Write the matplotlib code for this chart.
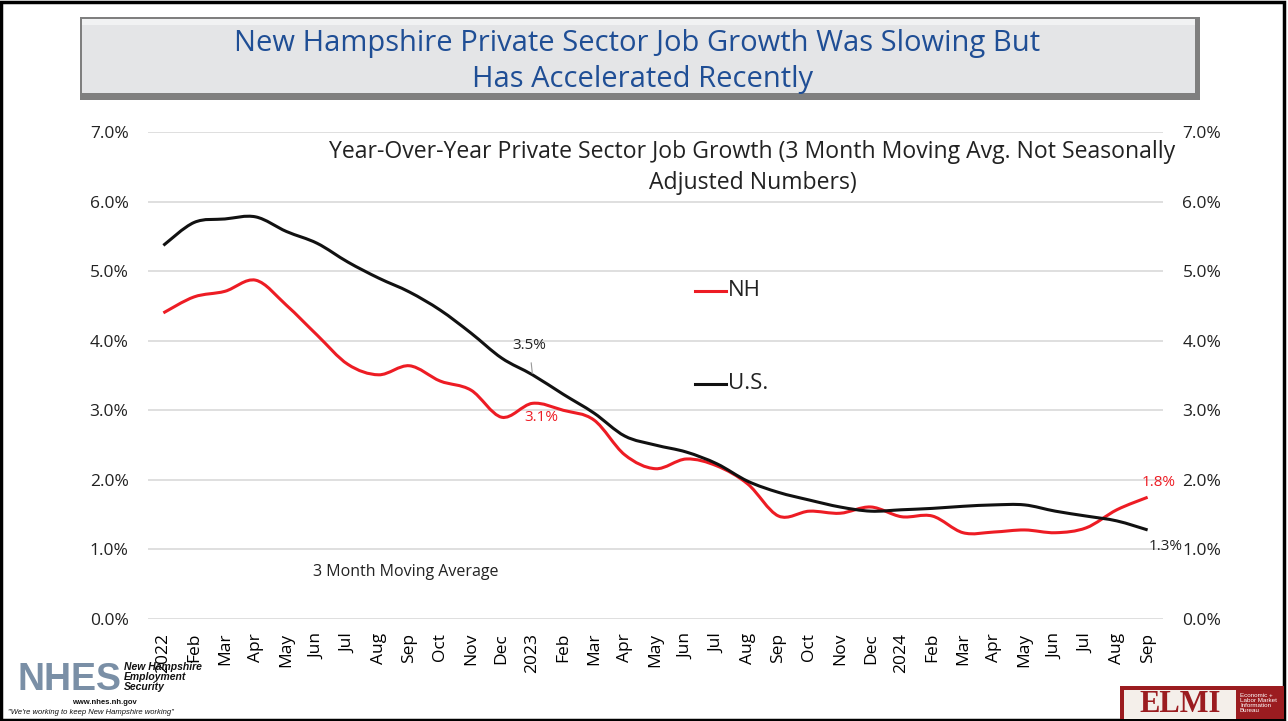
import numpy as np
import matplotlib.pyplot as plt
from matplotlib.patches import Rectangle, PathPatch
from matplotlib.path import Path
from matplotlib.ticker import FuncFormatter

plt.rcParams['font.family'] = ['Open Sans', 'DejaVu Sans']

months = ['2022', 'Feb', 'Mar', 'Apr', 'May', 'Jun', 'Jul', 'Aug', 'Sep', 'Oct', 'Nov', 'Dec',
          '2023', 'Feb', 'Mar', 'Apr', 'May', 'Jun', 'Jul', 'Aug', 'Sep', 'Oct', 'Nov', 'Dec',
          '2024', 'Feb', 'Mar', 'Apr', 'May', 'Jun', 'Jul', 'Aug', 'Sep']
nh = [4.40, 4.63, 4.71, 4.87, 4.51, 4.08, 3.66, 3.51, 3.64, 3.42, 3.29, 2.90,
      3.10, 3.00, 2.86, 2.36, 2.16, 2.30, 2.20, 1.94, 1.48, 1.55, 1.52, 1.61,
      1.47, 1.48, 1.24, 1.25, 1.28, 1.24, 1.31, 1.57, 1.75]
us = [5.37, 5.70, 5.75, 5.78, 5.57, 5.40, 5.13, 4.90, 4.70, 4.44, 4.11, 3.75,
      3.51, 3.23, 2.96, 2.63, 2.50, 2.40, 2.23, 1.98, 1.82, 1.71, 1.61, 1.55,
      1.57, 1.59, 1.62, 1.64, 1.64, 1.55, 1.48, 1.41, 1.28]
yticks = [0, 1, 2, 3, 4, 5, 6, 7]

RED = '#ED1C24'
W, H = 1288, 721
fig = plt.figure(figsize=(W / 100, H / 100), dpi=100)

def fx(px):
    return px / W

def fy(py):
    return 1 - py / H

def smooth_path(xs, ys):
    # Excel-style smoothed line: Bezier segments through every data point
    p = np.column_stack([xs, ys]).astype(float)
    verts = [p[0]]
    codes = [Path.MOVETO]
    n = len(p)
    for i in range(n - 1):
        p0 = p[i - 1] if i > 0 else p[i]
        p3 = p[i + 2] if i + 2 < n else p[i + 1]
        c1 = p[i] + (p[i + 1] - p0) / 6
        c2 = p[i + 1] - (p3 - p[i]) / 6
        verts += [c1, c2, p[i + 1]]
        codes += [Path.CURVE4] * 3
    return Path(verts, codes)

# outer frame
fig.patches.append(Rectangle((0.001, 0.002), 0.996, 0.995, transform=fig.transFigure,
                             fill=False, edgecolor='black', linewidth=2.5))

# title box with bevel
fig.patches.append(Rectangle((fx(80), fy(100)), fx(1200) - fx(80), fy(17) - fy(100),
                             transform=fig.transFigure, facecolor='#7F7F7F', edgecolor='none'))
fig.patches.append(Rectangle((fx(82), fy(93)), fx(1195) - fx(82), fy(19) - fy(93),
                             transform=fig.transFigure, facecolor='#E4E5E7', edgecolor='none'))
fig.patches.append(Rectangle((fx(82), fy(25)), fx(1195) - fx(82), fy(19) - fy(25),
                             transform=fig.transFigure, facecolor='#F1F2F3', edgecolor='none'))
fig.text(fx(637), fy(43), 'New Hampshire Private Sector Job Growth Was Slowing But',
         ha='center', va='center', fontsize=21, color='#1F4E95')
fig.text(fx(643), fy(79), 'Has Accelerated Recently',
         ha='center', va='center', fontsize=21, color='#1F4E95')

ax = fig.add_axes([fx(148), fy(619), fx(1163) - fx(148), fy(132) - fy(619)])
x = np.arange(len(months))
ax.add_patch(PathPatch(smooth_path(x, nh), fill=False, edgecolor=RED, linewidth=2.2))
ax.add_patch(PathPatch(smooth_path(x, us), fill=False, edgecolor='#111111', linewidth=2.2))
ax.set_xlim(-0.5, len(months) - 0.5)
ax.set_ylim(0, 7)
ax.set_yticks(yticks)
ax.yaxis.set_major_formatter(FuncFormatter(lambda v, p: f'{v:.1f}%'))
ax.grid(axis='y', color='#D9D9D9', linewidth=1.2)
ax.set_axisbelow(True)
ax.set_xticks(x)
ax.set_xticklabels(months, rotation=90, fontsize=12.5)
ax.tick_params(axis='x', length=0, pad=10)
ax.tick_params(axis='y', length=0, pad=14, labelsize=12.5, labelcolor='#222222')
for s in ax.spines.values():
    s.set_visible(False)

ax2 = ax.twinx()
ax2.set_ylim(0, 7)
ax2.set_yticks(yticks)
ax2.yaxis.set_major_formatter(FuncFormatter(lambda v, p: f'{v:.1f}%'))
ax2.tick_params(axis='y', length=0, pad=14, labelsize=12.5, labelcolor='#222222')
for s in ax2.spines.values():
    s.set_visible(False)

ax.text(19.15, 6.88, 'Year-Over-Year Private Sector Job Growth (3 Month Moving Avg. Not Seasonally\nAdjusted Numbers)',
        ha='center', va='top', fontsize=16.6, color='#222222', linespacing=1.35)
ax.text(4.85, 0.68, '3 Month Moving Average', ha='left', va='center', fontsize=11.5, color='#222222')

# legend as in the original
ax.plot([17.3, 18.3], [4.72, 4.72], color=RED, linewidth=2.2)
ax.text(18.35, 4.72, 'NH', ha='left', va='center', fontsize=16, color='#222222')
ax.plot([17.3, 18.3], [3.38, 3.38], color='#111111', linewidth=2.2)
ax.text(18.35, 3.38, 'U.S.', ha='left', va='center', fontsize=16, color='#222222')

# data labels
ax.annotate(f'{us[12]:.1f}%', xy=(12, us[12]), xytext=(11.9, 3.93), ha='center', va='center',
            fontsize=11, color='#222222',
            arrowprops=dict(arrowstyle='-', color='#999999', linewidth=0.8, shrinkA=5, shrinkB=1))
ax.text(12.3, nh[12] - 0.1, f'{nh[12]:.1f}%', ha='center', va='top', fontsize=11, color=RED)
ax.text(32.35, nh[32] + 0.1, f'{nh[32]:.1f}%', ha='center', va='bottom', fontsize=11, color=RED)
ax.text(32.6, us[32] - 0.13, f'{us[32]:.1f}%', ha='center', va='top', fontsize=11, color='#222222')

# NHES logo (approximation)
fig.text(fx(18), fy(680), 'NHES', ha='left', va='center', fontsize=27, fontweight='bold',
         color='#7A8FA6', family=['Liberation Sans'])
fig.text(fx(124), fy(677), 'New Hampshire\nEmployment\nSecurity', ha='left', va='center',
         fontsize=7.5, fontweight='bold', style='italic', color='#111111', linespacing=1.05,
         family=['Liberation Sans'])
fig.text(fx(72), fy(703), 'www.nhes.nh.gov', ha='left', va='center', fontsize=5.5,
         fontweight='bold', color='#111111', family=['Liberation Sans'])
fig.text(fx(8), fy(713), '"We\'re working to keep New Hampshire working"', ha='left', va='center',
         fontsize=5.5, style='italic', color='#111111', family=['Liberation Sans'])

# ELMI logo (approximation)
fig.patches.append(Rectangle((fx(1120), fy(719)), fx(1284) - fx(1120), fy(686) - fy(719),
                             transform=fig.transFigure, facecolor='#9B1C20', edgecolor='none'))
fig.patches.append(Rectangle((fx(1124), fy(719)), fx(1236) - fx(1124), fy(690) - fy(719),
                             transform=fig.transFigure, facecolor='#F4EFEA', edgecolor='none'))
fig.text(fx(1180), fy(705), 'ELMI', ha='center', va='center', fontsize=22, fontweight='bold',
         color='#9B1C20', family=['Liberation Serif'])
fig.text(fx(1240), fy(703), 'Economic +\nLabor Market\nInformation\nBureau', ha='left', va='center',
         fontsize=4.5, color='white', linespacing=1.0, family=['Liberation Sans'])

fig.savefig('out.png', dpi=100)
